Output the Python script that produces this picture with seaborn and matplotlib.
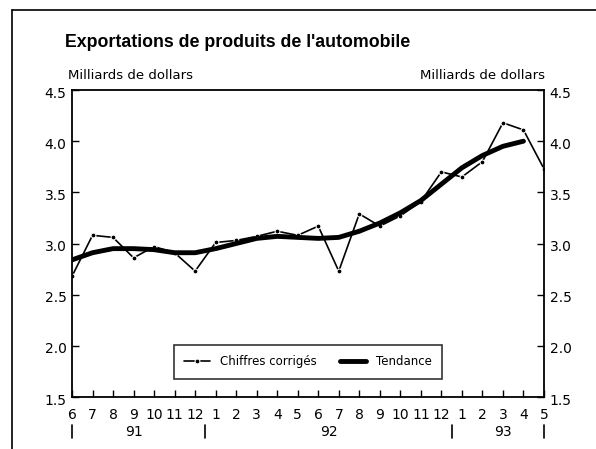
import matplotlib
matplotlib.use("Agg")
import matplotlib.pyplot as plt
import matplotlib.transforms as mtransforms
import seaborn as sns
import pandas as pd

# monthly data, June 1991 to May 1993
months = ["6", "7", "8", "9", "10", "11", "12",
          "1", "2", "3", "4", "5", "6", "7", "8", "9", "10", "11", "12",
          "1", "2", "3", "4", "5"]
years = ["91", "92", "93"]
chiffres = [2.68, 3.08, 3.06, 2.86, 2.97, 2.91, 2.73,
            3.01, 3.03, 3.07, 3.12, 3.08, 3.17, 2.73, 3.29, 3.17, 3.27, 3.41, 3.70,
            3.65, 3.80, 4.18, 4.11, 3.73]
tendance = [2.84, 2.91, 2.95, 2.95, 2.94, 2.91, 2.91,
            2.95, 3.00, 3.05, 3.07, 3.06, 3.05, 3.06, 3.12, 3.20, 3.30, 3.42, 3.58,
            3.74, 3.86, 3.95, 4.00, None]

df = pd.DataFrame({"i": range(len(months)), "chiffres": chiffres,
                   "tendance": tendance})

sns.set_style("ticks")
plt.rcParams["font.family"] = ["DejaVu Sans"]
for k in ["text.color", "xtick.color", "ytick.color", "axes.labelcolor",
          "axes.edgecolor"]:
    plt.rcParams[k] = "black"

fig = plt.figure(figsize=(5.96, 4.49), dpi=100)
ax = fig.add_axes([0.1208, 0.1158, 0.7919, 0.6837])

sns.lineplot(data=df, x="i", y="chiffres", ax=ax, color="black", lw=1.2,
             marker="o", markersize=3.5, label="Chiffres corrigés")
sns.lineplot(data=df.dropna(), x="i", y="tendance", ax=ax, color="black", lw=3.5,
             label="Tendance")

ax.set_xlim(0, 23)
ax.set_ylim(1.5, 4.5)
ax.set_yticks([1.5, 2.0, 2.5, 3.0, 3.5, 4.0, 4.5])
ax.set_yticklabels(["1.5", "2.0", "2.5", "3.0", "3.5", "4.0", "4.5"])
ax.set_xticks(range(len(months)))
ax.set_xticklabels(months)
ax.set_xlabel("")
ax.set_ylabel("")
for s in ax.spines.values():
    s.set_linewidth(1.3)
    s.set_color("black")
    s.set_visible(True)
ax.tick_params(axis="y", direction="in", length=5, labelsize=10, right=True,
               labelright=True, pad=4, width=1)
ax.tick_params(axis="x", direction="in", length=5, labelsize=10, pad=8, width=1)

# y labels sit a little below their ticks in the original
shift = mtransforms.ScaledTranslation(0, -2 / 100, fig.dpi_scale_trans)
for t in ax.yaxis.get_major_ticks():
    t.label1.set_transform(t.label1.get_transform() + shift)
    t.label2.set_transform(t.label2.get_transform() + shift)

# year row under the month labels
tr = mtransforms.blended_transform_factory(ax.transData, ax.transAxes)
for xp, yr in zip([3, 12.5, 21], years):
    ax.text(xp, -0.114, yr, transform=tr, ha="center", va="center", fontsize=10)
for xp in [0, 6.5, 18.5, 23]:
    ax.plot([xp, xp], [-0.09, -0.132], transform=tr, color="black", lw=1.2,
            clip_on=False)

leg = ax.legend(loc="lower center", bbox_to_anchor=(0.5, 0.04), ncol=2,
                fontsize=8.5, frameon=True, fancybox=False, handlelength=2.2,
                columnspacing=2.0, borderpad=0.9)
leg.get_frame().set_edgecolor("black")
leg.get_frame().set_linewidth(1.2)

fig.text(0.109, 0.905, "Exportations de produits de l'automobile",
         fontsize=12.8, fontweight="bold", va="center",
         family=["Liberation Sans", "DejaVu Sans"])
fig.text(0.114, 0.832, "Milliards de dollars", fontsize=9.5, va="center")
fig.text(0.915, 0.832, "Milliards de dollars", fontsize=9.5, va="center",
         ha="right")

# outer frame lines (top and left)
fig.add_artist(plt.Line2D([0.02, 1.0], [0.977, 0.977], color="black", lw=1.2))
fig.add_artist(plt.Line2D([0.02, 0.02], [0.0, 0.977], color="black", lw=1.2))

fig.savefig("out.png", dpi=100)
